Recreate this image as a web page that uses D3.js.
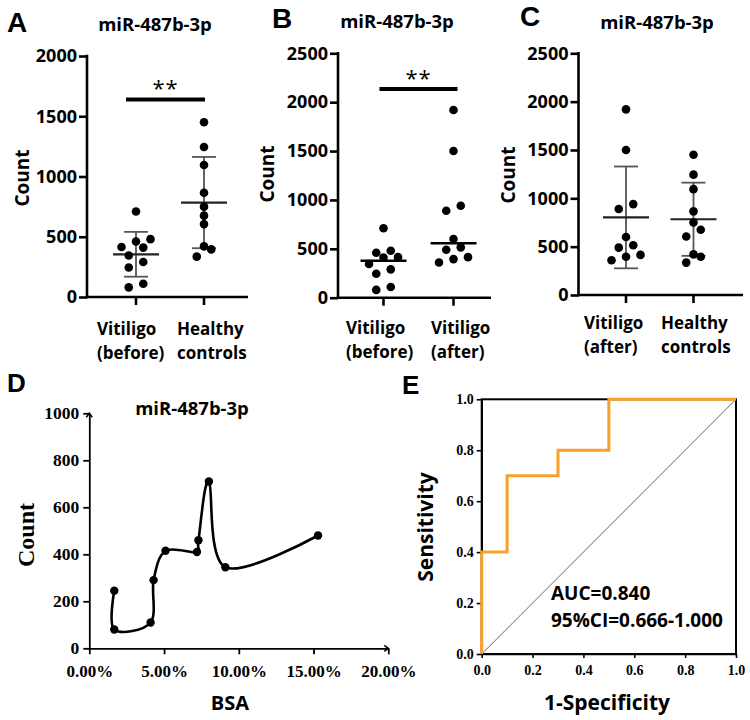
<!DOCTYPE html>
<html><head><meta charset="utf-8">
<script src="https://cdn.jsdelivr.net/npm/d3@7"></script>
<style>body{margin:0;background:#fff} svg{display:block}</style>
</head><body>
<svg id="c" width="750" height="720"></svg>
<script>
// ---------------- data ----------------
const titleText = "miR-487b-3p";
const vitiligoBefore = [710, 480, 460, 415, 410, 345, 290, 245, 110, 80];
const vitiligoAfter = [1920, 1500, 940, 890, 600, 515, 490, 415, 395, 360];
const healthyControls = [1450, 1245, 1095, 865, 750, 675, 605, 420, 395, 335];
const labelBefore = ["Vitiligo", "(before)"];
const labelAfter = ["Vitiligo", "(after)"];
const labelHealthy = ["Healthy", "controls"];
const ticksA = [0, 500, 1000, 1500, 2000];
const ticksBC = [0, 500, 1000, 1500, 2000, 2500];
const sigA = {text: "**", level: 1640};
const sigB = {text: "**", level: 2135};
const bsaPercent = [1.67, 1.67, 4.1, 4.3, 5.1, 7.2, 7.3, 8.0, 9.1, 15.3];
const bsaCount = [245, 80, 110, 290, 415, 410, 460, 710, 345, 480];
const ticksDx = [0, 5, 10, 15, 20];
const ticksDy = [0, 200, 400, 600, 800, 1000];
const rocFpr = [0, 0, 0.1, 0.1, 0.3, 0.3, 0.5, 0.5, 1];
const rocTpr = [0, 0.4, 0.4, 0.7, 0.7, 0.8, 0.8, 1, 1];
const ticksE = [0, 0.2, 0.4, 0.6, 0.8, 1];
const aucLines = ["AUC=0.840", "95%CI=0.666-1.000"];
const panelLetters = ["A", "B", "C", "D", "E"];

// ---------------- helpers ----------------
const SANS = "'Open Sans', 'Noto Sans', sans-serif";
const SERIF = "'Liberation Serif', 'Times New Roman', serif";
const ARIAL = "'Liberation Sans', Arial, sans-serif";
const svg = d3.select("#c");

function swarm(values, y, cx, rowH, s) {
  const pts = values.map(v => ({v, py: y(v)})).sort((a, b) => a.v - b.v);
  const rows = []; let cur = null;
  pts.forEach(d => {
    if (cur && (cur.start - d.py) < rowH) cur.items.push(d);
    else { cur = {start: d.py, items: [d]}; rows.push(cur); }
  });
  rows.forEach(r => {
    const n = r.items.length;
    r.items.forEach((d, i) => { d.px = cx + (i - (n - 1) / 2) * s; });
  });
  return pts;
}

function styleAxis(sel, w, fs, fam, weight) {
  sel.selectAll("path.domain").attr("stroke", "#000").attr("stroke-width", w);
  sel.selectAll(".tick line").attr("stroke", "#000").attr("stroke-width", w);
  sel.selectAll(".tick text").attr("fill", "#000").attr("font-size", fs)
     .attr("font-family", fam).attr("font-weight", weight);
}

function scatterPanel(o) {
  const g = svg.append("g");
  const y = d3.scaleLinear().domain([0, d3.max(o.ticks)]).range([o.bottom, o.top]);
  const x = d3.scalePoint().domain(o.groups.map((d, i) => i)).range(o.xr);

  // y axis
  const ya = g.append("g").attr("transform", `translate(${o.left},0)`)
    .call(d3.axisLeft(y).tickValues(o.ticks).tickSize(8).tickSizeOuter(0).tickPadding(2)
      .tickFormat(d3.format("d")));
  styleAxis(ya, 2.6, 18, SANS, 700);
  ya.selectAll("path.domain").attr("d", `M0,${o.bottom + 1.3}V${o.top - 1.3}`);

  // x axis
  g.append("line").attr("x1", o.left - 1.3).attr("x2", o.right)
    .attr("y1", o.bottom).attr("y2", o.bottom).attr("stroke", "#000").attr("stroke-width", 2.6);
  o.groups.forEach((grp, i) => {
    g.append("line").attr("x1", x(i)).attr("x2", x(i)).attr("y1", o.bottom)
      .attr("y2", o.bottom + 8).attr("stroke", "#000").attr("stroke-width", 2.6);
    grp.label.forEach((ln, k) => {
      g.append("text").attr("text-anchor", "start").attr("font-family", SANS)
        .attr("font-weight", 700).attr("font-size", 17).attr("fill", "#000")
        .attr("x", o.labelStart[i]).attr("y", o.labelY + k * 23.5).text(ln);
    });
  });

  // summary lines + dots
  o.groups.forEach((grp, i) => {
    const cx = x(i);
    if (o.summary === "meanSD") {
      const m = d3.mean(grp.values), sd = d3.deviation(grp.values);
      g.append("line").attr("x1", cx).attr("x2", cx).attr("y1", y(m - sd)).attr("y2", y(m + sd))
        .attr("stroke", "#555").attr("stroke-width", 1.8);
      [m - sd, m + sd].forEach(v => g.append("line").attr("x1", cx - 12).attr("x2", cx + 12)
        .attr("y1", y(v)).attr("y2", y(v)).attr("stroke", "#555").attr("stroke-width", 1.8));
      g.append("line").attr("x1", cx - 23).attr("x2", cx + 23).attr("y1", y(m)).attr("y2", y(m))
        .attr("stroke", "#222").attr("stroke-width", 2.2);
    } else {
      const md = d3.median(grp.values);
      g.append("line").attr("x1", cx - 23).attr("x2", cx + 23).attr("y1", y(md)).attr("y2", y(md))
        .attr("stroke", "#000").attr("stroke-width", 2.4);
    }
    const pts = swarm(grp.values, y, cx, 8, 14.5);
    g.selectAll(null).data(pts).join("circle")
      .attr("cx", d => d.px).attr("cy", d => d.py).attr("r", 4.3).attr("fill", "#000");
  });

  // significance
  if (o.sig) {
    const yy = y(o.sig.level);
    g.append("line").attr("x1", x(0) + o.sigPad[0]).attr("x2", x(1) + o.sigPad[1])
      .attr("y1", yy).attr("y2", yy).attr("stroke", "#000").attr("stroke-width", 4);
    g.append("text").attr("x", (x(0) + o.sigPad[0] + x(1) + o.sigPad[1]) / 2).attr("y", yy - 3)
      .attr("text-anchor", "middle").attr("font-family", SANS).attr("font-size", 22)
      .attr("letter-spacing", 1).text(o.sig.text);
  }

  // y label
  g.append("text").attr("transform", `translate(${o.ylabX},${o.ylabY}) rotate(-90)`)
    .attr("text-anchor", "middle").attr("font-family", SANS).attr("font-weight", 700)
    .attr("font-size", 19).text("Count");
  // title
  g.append("text").attr("x", o.titleX).attr("y", o.titleY).attr("text-anchor", "middle")
    .attr("font-family", SANS).attr("font-weight", 700).attr("font-size", 18.5).text(titleText);
  // letter
  g.append("text").attr("x", o.letterX).attr("y", o.letterY).attr("font-family", ARIAL)
    .attr("font-weight", 700).attr("font-size", 28).text(o.letter);
}

scatterPanel({
  letter: panelLetters[0], letterX: 7, letterY: 32,
  ticks: ticksA, top: 56, bottom: 297, left: 87, right: 248, xr: [136, 204],
  groups: [{values: vitiligoBefore, label: labelBefore}, {values: healthyControls, label: labelHealthy}],
  summary: "meanSD", sig: sigA, sigPad: [-10, 1], labelY: 335, labelStart: [97, 177],
  ylabX: 29, ylabY: 178, titleX: 155, titleY: 31
});
scatterPanel({
  letter: panelLetters[1], letterX: 272, letterY: 28,
  ticks: ticksBC, top: 53.3, bottom: 297.7, left: 338, right: 491, xr: [383.5, 453.5],
  groups: [{values: vitiligoBefore, label: labelBefore}, {values: vitiligoAfter, label: labelAfter}],
  summary: "median", sig: sigB, sigPad: [-4, 4], labelY: 334, labelStart: [346, 431],
  ylabX: 274, ylabY: 174, titleX: 397, titleY: 28
});
scatterPanel({
  letter: panelLetters[2], letterX: 520, letterY: 26,
  ticks: ticksBC, top: 53.3, bottom: 295, left: 578.5, right: 743, xr: [626, 693.5],
  groups: [{values: vitiligoAfter, label: labelAfter}, {values: healthyControls, label: labelHealthy}],
  summary: "meanSD", sig: null, labelY: 329, labelStart: [584, 661],
  ylabX: 515, ylabY: 175, titleX: 657, titleY: 29
});

// ---------------- panel D ----------------
(function () {
  const g = svg.append("g");
  const x = d3.scaleLinear().domain([0, 20]).range([89.3, 388.3]);
  const y = d3.scaleLinear().domain([0, 1000]).range([648.3, 413.3]);
  const xa = g.append("g").attr("transform", "translate(0,648.3)")
    .call(d3.axisBottom(x).tickValues(ticksDx).tickSize(6).tickSizeOuter(0).tickPadding(11)
      .tickFormat(d => d.toFixed(2) + "%"));
  styleAxis(xa, 1.8, 17, SERIF, 700);
  const ya = g.append("g").attr("transform", "translate(89.3,0)")
    .call(d3.axisLeft(y).tickValues(ticksDy).tickSize(6).tickSizeOuter(0).tickPadding(4)
      .tickFormat(d3.format("d")));
  styleAxis(ya, 1.8, 17.5, SERIF, 700);
  // arrow heads
  g.append("path").attr("d", `M${x(20) - 4},${y(0) - 3}L${x(20)},${y(0)}L${x(20) - 4},${y(0) + 3}`)
    .attr("fill", "none").attr("stroke", "#000").attr("stroke-width", 1.5);
  g.append("path").attr("d", `M${x(0) - 3},${y(1000) + 4}L${x(0)},${y(1000)}L${x(0) + 3},${y(1000) + 4}`)
    .attr("fill", "none").attr("stroke", "#000").attr("stroke-width", 1.5);

  const pts = bsaPercent.map((p, i) => [x(p), y(bsaCount[i])]);
  g.append("path").attr("d", d3.line().curve(d3.curveCardinal.tension(0))(pts))
    .attr("fill", "none").attr("stroke", "#000").attr("stroke-width", 2.6);
  g.selectAll(null).data(pts).join("circle").attr("cx", d => d[0]).attr("cy", d => d[1])
    .attr("r", 4.2).attr("fill", "#000");

  g.append("text").attr("transform", "translate(34,535) rotate(-90)").attr("text-anchor", "middle")
    .attr("font-family", SERIF).attr("font-weight", 700).attr("font-size", 24).text("Count");
  g.append("text").attr("x", 230).attr("y", 710).attr("text-anchor", "middle")
    .attr("font-family", SANS).attr("font-weight", 700).attr("font-size", 20).text("BSA");
  g.append("text").attr("x", 192).attr("y", 415).attr("text-anchor", "middle")
    .attr("font-family", SANS).attr("font-weight", 700).attr("font-size", 18.5).text(titleText);
  g.append("text").attr("x", 7).attr("y", 392).attr("font-family", ARIAL)
    .attr("font-weight", 700).attr("font-size", 26).text(panelLetters[3]);
})();

// ---------------- panel E ----------------
(function () {
  const g = svg.append("g");
  const x = d3.scaleLinear().domain([0, 1]).range([481.7, 736]);
  const y = d3.scaleLinear().domain([0, 1]).range([654, 399.3]);
  const xa = g.append("g").attr("transform", "translate(0,654)")
    .call(d3.axisBottom(x).tickValues(ticksE).tickSize(4).tickSizeOuter(0).tickPadding(7)
      .tickFormat(d3.format(".1f")));
  styleAxis(xa, 1.6, 14, SERIF, 700);
  const ya = g.append("g").attr("transform", "translate(481.7,0)")
    .call(d3.axisLeft(y).tickValues(ticksE).tickSize(5).tickSizeOuter(0).tickPadding(3)
      .tickFormat(d3.format(".1f")));
  styleAxis(ya, 1.6, 14, SERIF, 700);
  g.append("rect").attr("x", x(0)).attr("y", y(1)).attr("width", x(1) - x(0)).attr("height", y(0) - y(1))
    .attr("fill", "none").attr("stroke", "#000").attr("stroke-width", 2);
  g.append("line").attr("x1", x(0)).attr("y1", y(0)).attr("x2", x(1)).attr("y2", y(1))
    .attr("stroke", "#666").attr("stroke-width", 1);
  const pts = rocFpr.map((f, i) => [x(f), y(rocTpr[i])]);
  g.append("path").attr("d", d3.line()(pts)).attr("fill", "none")
    .attr("stroke", "#f5a12c").attr("stroke-width", 3);

  aucLines.forEach((ln, k) => g.append("text").attr("font-family", SANS).attr("font-weight", 700)
    .attr("font-size", 19).attr("x", 551).attr("y", 600 + k * 27).text(ln));

  g.append("text").attr("transform", "translate(433,527) rotate(-90)").attr("text-anchor", "middle")
    .attr("font-family", SANS).attr("font-weight", 700).attr("font-size", 21).text("Sensitivity");
  g.append("text").attr("x", 607).attr("y", 710).attr("text-anchor", "middle")
    .attr("font-family", SANS).attr("font-weight", 700).attr("font-size", 21).text("1-Specificity");
  g.append("text").attr("x", 402).attr("y", 394).attr("font-family", ARIAL)
    .attr("font-weight", 700).attr("font-size", 26).text(panelLetters[4]);
})();
</script>
</body></html>
